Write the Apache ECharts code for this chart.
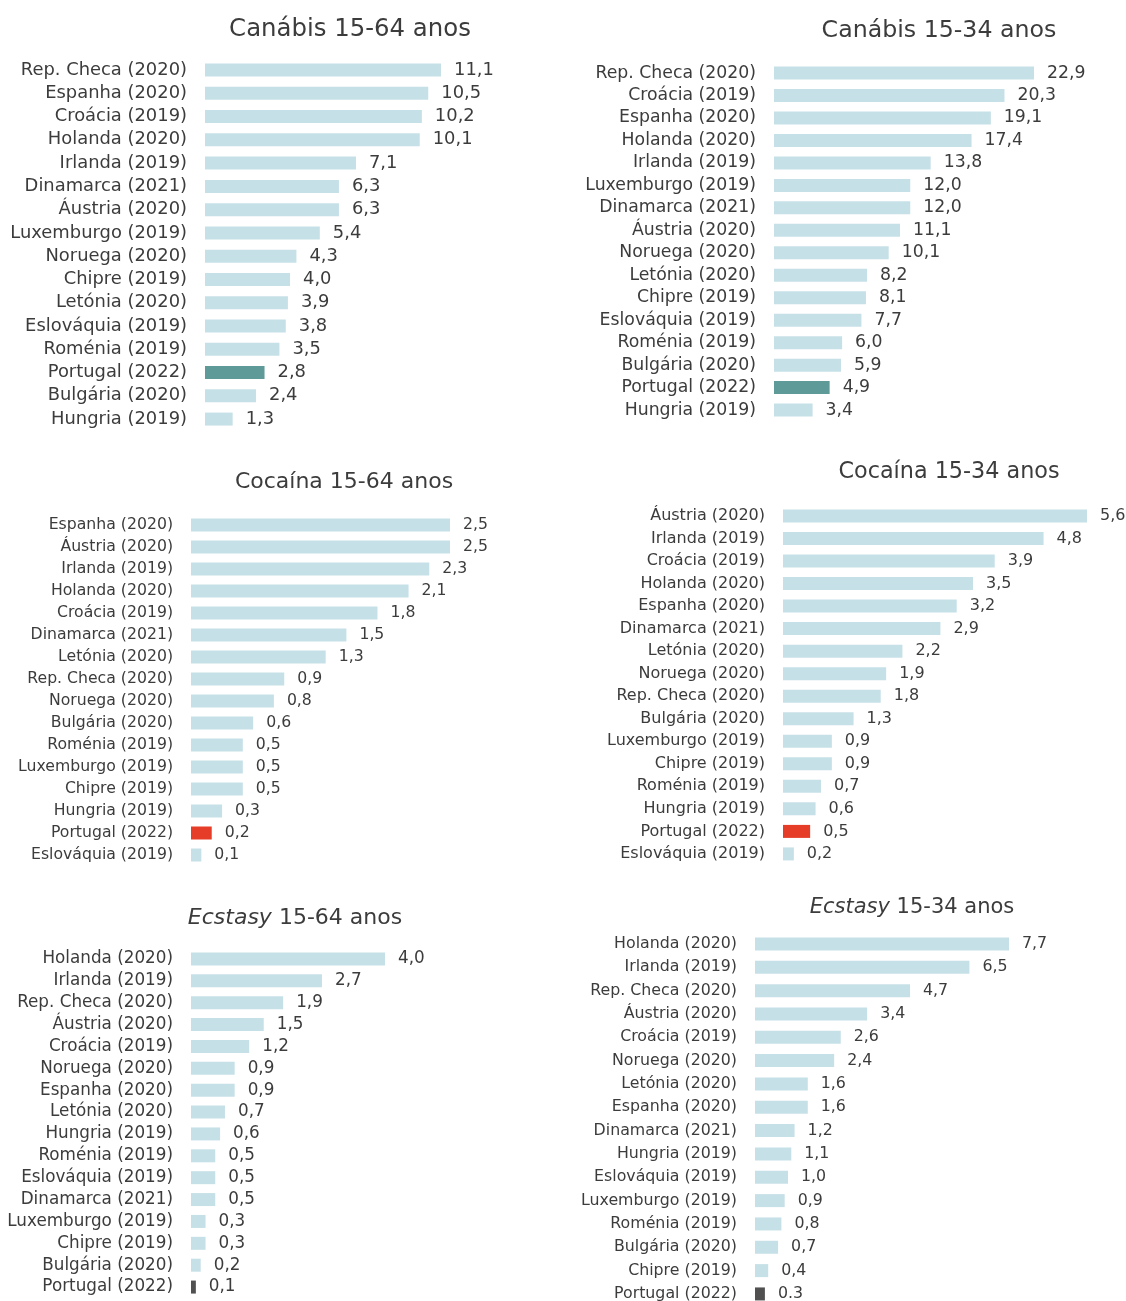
<!DOCTYPE html>
<html>
<head>
<meta charset="utf-8">
<script src="https://cdn.jsdelivr.net/npm/echarts@6/dist/echarts.min.js"></script>
<style>
  html, body { margin: 0; padding: 0; background: #fff; }
  #chart { width: 1126px; height: 1301px; }
</style>
</head>
<body>
<div id="chart"></div>
<script>
// Canábis 15-64
const canabis1564Names = ['Rep. Checa (2020)', 'Espanha (2020)', 'Croácia (2019)', 'Holanda (2020)', 'Irlanda (2019)', 'Dinamarca (2021)', 'Áustria (2020)', 'Luxemburgo (2019)', 'Noruega (2020)', 'Chipre (2019)', 'Letónia (2020)', 'Eslováquia (2019)', 'Roménia (2019)', 'Portugal (2022)', 'Bulgária (2020)', 'Hungria (2019)'];
const canabis1564Values = [11.1, 10.5, 10.2, 10.1, 7.1, 6.3, 6.3, 5.4, 4.3, 4.0, 3.9, 3.8, 3.5, 2.8, 2.4, 1.3];

// Canábis 15-34
const canabis1534Names = ['Rep. Checa (2020)', 'Croácia (2019)', 'Espanha (2020)', 'Holanda (2020)', 'Irlanda (2019)', 'Luxemburgo (2019)', 'Dinamarca (2021)', 'Áustria (2020)', 'Noruega (2020)', 'Letónia (2020)', 'Chipre (2019)', 'Eslováquia (2019)', 'Roménia (2019)', 'Bulgária (2020)', 'Portugal (2022)', 'Hungria (2019)'];
const canabis1534Values = [22.9, 20.3, 19.1, 17.4, 13.8, 12.0, 12.0, 11.1, 10.1, 8.2, 8.1, 7.7, 6.0, 5.9, 4.9, 3.4];

// Cocaína 15-64
const cocaina1564Names = ['Espanha (2020)', 'Áustria (2020)', 'Irlanda (2019)', 'Holanda (2020)', 'Croácia (2019)', 'Dinamarca (2021)', 'Letónia (2020)', 'Rep. Checa (2020)', 'Noruega (2020)', 'Bulgária (2020)', 'Roménia (2019)', 'Luxemburgo (2019)', 'Chipre (2019)', 'Hungria (2019)', 'Portugal (2022)', 'Eslováquia (2019)'];
const cocaina1564Values = [2.5, 2.5, 2.3, 2.1, 1.8, 1.5, 1.3, 0.9, 0.8, 0.6, 0.5, 0.5, 0.5, 0.3, 0.2, 0.1];

// Cocaína 15-34
const cocaina1534Names = ['Áustria (2020)', 'Irlanda (2019)', 'Croácia (2019)', 'Holanda (2020)', 'Espanha (2020)', 'Dinamarca (2021)', 'Letónia (2020)', 'Noruega (2020)', 'Rep. Checa (2020)', 'Bulgária (2020)', 'Luxemburgo (2019)', 'Chipre (2019)', 'Roménia (2019)', 'Hungria (2019)', 'Portugal (2022)', 'Eslováquia (2019)'];
const cocaina1534Values = [5.6, 4.8, 3.9, 3.5, 3.2, 2.9, 2.2, 1.9, 1.8, 1.3, 0.9, 0.9, 0.7, 0.6, 0.5, 0.2];

// Ecstasy 15-64
const ecstasy1564Names = ['Holanda (2020)', 'Irlanda (2019)', 'Rep. Checa (2020)', 'Áustria (2020)', 'Croácia (2019)', 'Noruega (2020)', 'Espanha (2020)', 'Letónia (2020)', 'Hungria (2019)', 'Roménia (2019)', 'Eslováquia (2019)', 'Dinamarca (2021)', 'Luxemburgo (2019)', 'Chipre (2019)', 'Bulgária (2020)', 'Portugal (2022)'];
const ecstasy1564Values = [4.0, 2.7, 1.9, 1.5, 1.2, 0.9, 0.9, 0.7, 0.6, 0.5, 0.5, 0.5, 0.3, 0.3, 0.2, 0.1];

// Ecstasy 15-34
const ecstasy1534Names = ['Holanda (2020)', 'Irlanda (2019)', 'Rep. Checa (2020)', 'Áustria (2020)', 'Croácia (2019)', 'Noruega (2020)', 'Letónia (2020)', 'Espanha (2020)', 'Dinamarca (2021)', 'Hungria (2019)', 'Eslováquia (2019)', 'Luxemburgo (2019)', 'Roménia (2019)', 'Bulgária (2020)', 'Chipre (2019)', 'Portugal (2022)'];
const ecstasy1534Values = [7.7, 6.5, 4.7, 3.4, 2.6, 2.4, 1.6, 1.6, 1.2, 1.1, 1.0, 0.9, 0.8, 0.7, 0.4, 0.3];

const font = 'DejaVu Sans';
const textColor = '#3c3c3c';
const barColor = '#c6e0e7';

const panels = [
  { title: 'Canábis 15-64 anos', names: canabis1564Names, values: canabis1564Values, pt: '#5e9a98',
    left: 205, top: 58.4, width: 236, height: 372.3, tx: 345, ty: 13, ts: 24.4, fs: 17.9 },
  { title: 'Canábis 15-34 anos', names: canabis1534Names, values: canabis1534Values, pt: '#5e9a98',
    left: 774, top: 61.8, width: 260, height: 359.5, tx: 934, ty: 14, ts: 23.7, fs: 17.3 },
  { title: 'Cocaína 15-64 anos', names: cocaina1564Names, values: cocaina1564Values, pt: '#e53d27',
    left: 191, top: 514, width: 259, height: 352, tx: 339, ty: 466, ts: 22, fs: 15.7 },
  { title: 'Cocaína 15-34 anos', names: cocaina1534Names, values: cocaina1534Values, pt: '#e53d27',
    left: 783, top: 504.7, width: 304, height: 360.5, tx: 944, ty: 456, ts: 22.3, fs: 16 },
  { title: 'Ecstasy', sub: ' 15-64 anos', names: ecstasy1564Names, values: ecstasy1564Values, pt: '#505050',
    left: 191, top: 948, width: 194, height: 350, tx: 290, ty: 902, ts: 22, fs: 16.8 },
  { title: 'Ecstasy', sub: ' 15-34 anos', names: ecstasy1534Names, values: ecstasy1534Values, pt: '#505050',
    left: 755, top: 932.3, width: 254, height: 373.3, tx: 907, ty: 892, ts: 21, fs: 15.8, dot: true }
];

const option = {
  backgroundColor: '#fff',
  animation: false,
  title: [], grid: [], xAxis: [], yAxis: [], series: []
};

panels.forEach(function (p, i) {
  option.title.push({
    text: p.sub ? '{it|' + p.title + '}{n|' + p.sub + '}' : p.title,
    left: p.tx, top: p.ty, textAlign: 'center',
    textStyle: {
      fontFamily: font, fontSize: p.ts, fontWeight: 'normal', color: textColor,
      rich: {
        it: { fontFamily: font, fontSize: p.ts, fontStyle: 'italic', color: textColor },
        n: { fontFamily: font, fontSize: p.ts, color: textColor }
      }
    }
  });
  option.grid.push({
    left: p.left, top: p.top, width: p.width, height: p.height,
    containLabel: false, outerBoundsMode: 'none'
  });
  option.xAxis.push({
    gridIndex: i, type: 'value', min: 0, max: Math.max.apply(null, p.values),
    show: false
  });
  option.yAxis.push({
    gridIndex: i, type: 'category', inverse: true, data: p.names,
    axisLine: { show: false }, axisTick: { show: false }, splitLine: { show: false },
    axisLabel: { interval: 0, margin: 18, fontFamily: font, fontSize: p.fs, color: textColor }
  });
  option.series.push({
    type: 'bar', xAxisIndex: i, yAxisIndex: i, barWidth: 13,
    data: p.values.map(function (v, k) {
      const isPt = p.names[k].indexOf('Portugal') === 0;
      return { value: v, itemStyle: { color: isPt ? p.pt : barColor } };
    }),
    label: {
      show: true, position: 'right', distance: 13,
      fontFamily: font, fontSize: p.fs, color: textColor,
      formatter: function (d) {
        const s = d.value.toFixed(1);
        if (p.dot && d.name.indexOf('Portugal') === 0) return s;
        return s.replace('.', ',');
      }
    }
  });
});

const chart = echarts.init(document.getElementById('chart'));
chart.setOption(option);
</script>
</body>
</html>
